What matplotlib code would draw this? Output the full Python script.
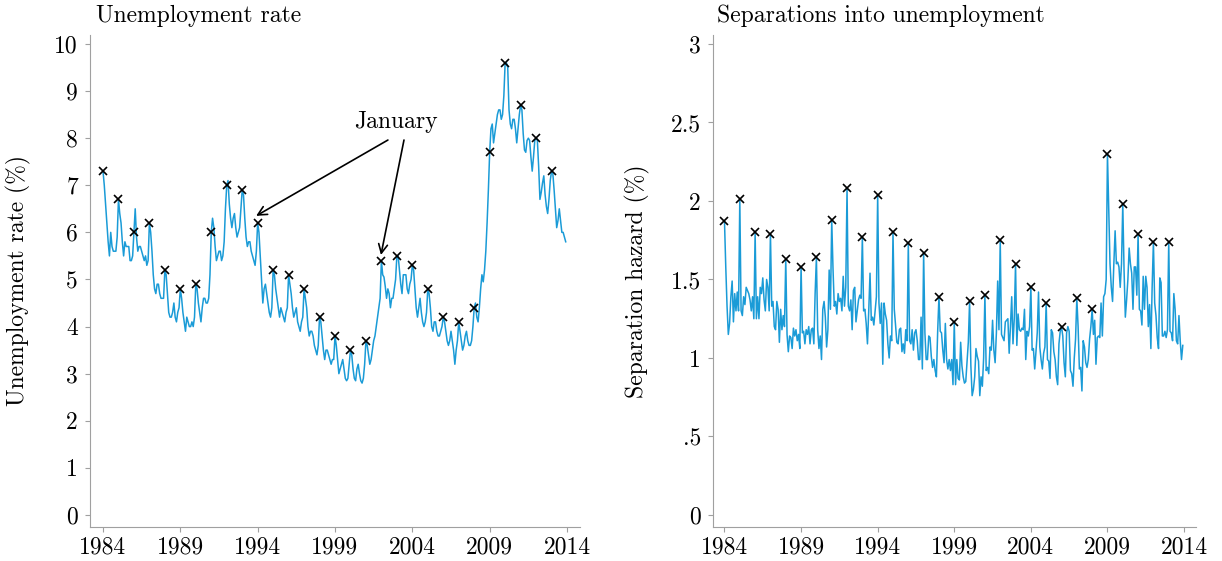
import numpy as np
import matplotlib
matplotlib.use("Agg")
import matplotlib.pyplot as plt

plt.rcParams["font.family"] = "serif"
plt.rcParams["font.serif"] = ["cmr10"]
plt.rcParams["axes.unicode_minus"] = False
plt.rcParams["axes.formatter.use_mathtext"] = True

# monthly series, Jan 1984 - Dec 2013 (one row per year)
unemp = [
    7.3, 7.0, 6.6, 6.2, 5.8, 5.5, 6.0, 5.7, 5.6, 5.6, 5.6, 5.9,
    6.7, 6.4, 6.2, 5.8, 5.5, 5.8, 5.7, 5.7, 5.7, 5.4, 5.4, 5.5,
    6.0, 6.5, 5.9, 5.6, 5.7, 5.7, 5.6, 5.5, 5.4, 5.5, 5.3, 5.4,
    6.2, 6.0, 5.6, 5.1, 4.8, 4.7, 4.9, 4.9, 4.7, 4.6, 4.6, 4.6,
    5.2, 5.1, 4.7, 4.3, 4.2, 4.2, 4.3, 4.5, 4.2, 4.1, 4.3, 4.4,
    4.8, 4.6, 4.3, 4.1, 3.9, 4.2, 4.1, 4.0, 4.0, 4.1, 4.0, 4.2,
    4.9, 4.8, 4.5, 4.3, 4.1, 4.4, 4.6, 4.6, 4.5, 4.5, 4.6, 5.1,
    6.0, 6.3, 6.1, 5.7, 5.4, 5.5, 5.6, 5.6, 5.4, 5.5, 5.8, 6.5,
    7.0, 7.1, 6.6, 6.3, 6.1, 6.3, 6.4, 6.1, 5.9, 6.0, 6.1, 6.5,
    6.9, 6.8, 6.3, 5.9, 5.7, 5.8, 5.8, 5.6, 5.5, 5.4, 5.3, 5.6,
    6.2, 6.0, 5.5, 5.0, 4.5, 4.8, 4.9, 4.7, 4.5, 4.3, 4.2, 4.4,
    5.2, 5.1, 4.8, 4.6, 4.4, 4.2, 4.4, 4.3, 4.2, 4.1, 4.3, 4.4,
    5.1, 4.9, 4.7, 4.4, 4.2, 4.3, 4.4, 4.1, 4.0, 3.9, 4.1, 4.2,
    4.8, 4.6, 4.4, 4.0, 3.8, 3.9, 3.9, 3.8, 3.6, 3.5, 3.4, 3.6,
    4.2, 4.1, 3.8, 3.5, 3.3, 3.5, 3.5, 3.4, 3.3, 3.2, 3.3, 3.3,
    3.8, 3.6, 3.3, 3.0, 3.1, 3.2, 3.3, 3.1, 2.9, 2.85, 2.9, 3.2,
    3.5, 3.4, 3.1, 2.9, 2.85, 3.1, 3.2, 3.0, 2.85, 2.8, 2.9, 3.2,
    3.7, 3.6, 3.4, 3.2, 3.3, 3.5, 3.7, 3.8, 4.0, 4.2, 4.4, 4.6,
    5.4, 5.1, 5.05, 4.85, 4.6, 4.8, 4.7, 4.4, 4.6, 4.6, 4.8, 5.0,
    5.5, 5.5, 5.2, 4.9, 4.7, 5.1, 5.1, 5.1, 4.8, 4.7, 4.9, 5.0,
    5.3, 5.2, 4.8, 4.4, 4.2, 4.4, 4.6, 4.3, 4.1, 4.0, 4.1, 4.3,
    4.8, 4.7, 4.4, 4.0, 3.9, 4.1, 4.1, 3.9, 3.8, 3.8, 3.9, 4.0,
    4.2, 4.1, 3.9, 3.7, 3.6, 3.7, 3.9, 3.7, 3.5, 3.2, 3.5, 3.7,
    4.1, 3.9, 3.7, 3.5, 3.6, 3.8, 3.9, 3.7, 3.6, 3.6, 3.7, 4.0,
    4.4, 4.5, 4.2, 4.1, 4.4, 4.8, 5.1, 4.95, 5.2, 5.6, 6.2, 6.9,
    7.7, 8.2, 8.3, 7.9, 8.1, 8.3, 8.5, 8.6, 8.6, 8.4, 8.5, 8.9,
    9.6, 9.6, 9.5, 8.6, 8.3, 8.2, 8.4, 8.4, 8.2, 7.9, 8.2, 8.5,
    8.7, 8.6, 8.1, 7.75, 7.7, 7.95, 8.0, 7.95, 7.6, 7.3, 7.6, 7.95,
    8.0, 7.95, 7.4, 6.7, 6.85, 7.05, 7.2, 6.8, 6.55, 6.4, 6.7, 7.1,
    7.3, 7.25, 6.9, 6.5, 6.1, 6.25, 6.5, 6.25, 6.0, 6.0, 5.9, 5.8,
]

sep = [
    1.87, 1.58, 1.33, 1.15, 1.22, 1.39, 1.49, 1.23, 1.41, 1.30, 1.42, 1.30,
    2.01, 1.30, 1.27, 1.39, 1.34, 1.45, 1.43, 1.41, 1.37, 1.30, 1.39, 1.25,
    1.80, 1.25, 1.39, 1.25, 1.45, 1.41, 1.51, 1.37, 1.30, 1.50, 1.45, 1.30,
    1.79, 1.33, 1.36, 1.20, 1.18, 1.36, 1.31, 1.10, 1.31, 1.18, 1.27, 1.20,
    1.63, 1.15, 1.04, 1.14, 1.13, 1.06, 1.19, 1.14, 1.18, 1.11, 1.15, 1.06,
    1.58, 1.16, 1.17, 1.09, 1.18, 1.15, 1.20, 1.09, 1.18, 1.19, 1.09, 1.41,
    1.64, 1.18, 1.06, 1.14, 0.99, 1.31, 1.36, 1.26, 1.07, 1.18, 1.56, 1.31,
    1.88, 1.57, 1.33, 1.36, 1.28, 1.41, 1.36, 1.38, 1.30, 1.52, 1.33, 1.45,
    2.08, 1.33, 1.30, 1.37, 1.18, 1.43, 1.45, 1.23, 1.30, 1.37, 1.40, 1.38,
    1.77, 1.30, 1.31, 1.22, 1.09, 1.30, 1.54, 1.24, 1.26, 1.21, 1.30, 1.39,
    2.04, 1.35, 1.22, 1.35, 0.96, 1.35, 1.28, 1.24, 1.09, 1.00, 1.14, 1.11,
    1.80, 1.31, 1.21, 1.10, 1.09, 1.18, 1.19, 1.04, 1.09, 1.03, 1.18, 1.11,
    1.73, 1.11, 1.09, 1.18, 1.05, 1.16, 1.18, 1.11, 0.99, 0.99, 1.26, 0.93,
    1.67, 1.16, 0.99, 0.99, 1.14, 1.13, 1.01, 0.94, 0.99, 0.92, 0.88, 1.17,
    1.39, 1.17, 1.16, 1.05, 0.97, 1.22, 0.99, 0.93, 0.99, 0.92, 0.99, 0.83,
    1.23, 0.83, 0.99, 0.87, 0.86, 1.10, 0.95, 0.88, 0.84, 0.85, 0.98, 1.10,
    1.36, 0.95, 0.76, 0.80, 0.88, 1.06, 1.01, 0.98, 0.76, 0.88, 0.82, 1.00,
    1.40, 0.92, 0.94, 0.90, 1.07, 1.05, 1.24, 1.05, 0.97, 1.16, 1.49, 1.18,
    1.75, 1.15, 1.13, 1.11, 1.23, 1.24, 1.25, 1.03, 1.20, 1.39, 1.09, 1.25,
    1.60, 1.08, 1.28, 1.18, 1.17, 1.19, 1.18, 1.31, 0.99, 1.17, 1.14, 1.20,
    1.45, 1.05, 1.06, 0.93, 1.04, 1.16, 1.42, 1.07, 0.99, 0.93, 1.03, 1.07,
    1.35, 0.99, 0.98, 0.87, 1.18, 1.16, 1.04, 0.99, 0.88, 0.83, 1.09, 1.17,
    1.20, 1.14, 0.97, 0.88, 1.16, 1.20, 1.17, 0.92, 0.90, 0.82, 1.00, 1.12,
    1.38, 1.20, 0.93, 0.94, 0.79, 1.11, 1.07, 0.97, 0.94, 0.99, 1.12, 1.20,
    1.31, 1.15, 1.24, 0.96, 1.13, 1.14, 1.13, 1.35, 1.14, 1.39, 1.41, 1.50,
    2.30, 1.95, 1.60, 1.45, 1.36, 1.60, 1.81, 1.60, 1.61, 1.58, 1.45, 1.60,
    1.98, 1.56, 1.26, 1.37, 1.50, 1.70, 1.60, 1.54, 1.31, 1.58, 1.58, 1.40,
    1.79, 1.31, 1.30, 1.21, 1.52, 1.31, 1.52, 1.45, 1.20, 1.34, 1.06, 1.45,
    1.74, 1.35, 1.27, 1.13, 1.06, 1.51, 1.48, 1.14, 1.14, 1.17, 1.13, 1.18,
    1.74, 1.17, 1.16, 1.11, 1.41, 1.31, 1.11, 1.09, 1.27, 1.11, 0.99, 1.08,
]

x_ticks = [1984, 1989, 1994, 1999, 2004, 2009, 2014]
u_ticks = list(range(0, 11))
s_ticks = [0, 0.5, 1, 1.5, 2, 2.5, 3]
s_labels = ["0", ".5", "1", "1.5", "2", "2.5", "3"]

fecha = 1984 + np.arange(len(unemp)) / 12
unemp = np.array(unemp)
sep = np.array(sep)

AZUL = "#1a9bd7"
GRIS = "#a0a0a0"
FS = 17

fig = plt.figure(figsize=(12.22, 5.61), dpi=100)
ax1 = fig.add_axes([90 / 1222, 34 / 561, 490 / 1222, 492 / 561])
ax2 = fig.add_axes([713 / 1222, 34 / 561, 483 / 1222, 492 / 561])


def estilo(ax):
    for lado in ("top", "right"):
        ax.spines[lado].set_visible(False)
    for lado in ("left", "bottom"):
        ax.spines[lado].set_color(GRIS)
        ax.spines[lado].set_linewidth(0.8)
    ax.tick_params(direction="out", length=3.6, width=0.8, color=GRIS,
                   labelsize=FS, labelcolor="black")
    ax.tick_params(axis="y", pad=5)
    ax.tick_params(axis="x", pad=3)
    ax.set_xticks(x_ticks)
    ax.set_xticklabels([str(t) for t in x_ticks])


# panel izquierdo: tasa de desempleo
ax1.plot(fecha, unemp, color=AZUL, lw=1.1)
ax1.plot(fecha[::12], unemp[::12], "x", color="black", ms=6, mew=1.2)
estilo(ax1)
ax1.set_xlim(1983.16, 2014.84)
ax1.set_ylim(-0.255, 10.19)
ax1.set_yticks(u_ticks)
ax1.set_yticklabels([str(t) for t in u_ticks])
ax1.set_ylabel("Unemployment rate (%)", fontsize=FS)
ax1.yaxis.set_label_coords(-0.12, 0.5)
ax1.text(0.012, 1.026, "Unemployment rate", transform=ax1.transAxes,
         fontsize=FS, ha="left", va="baseline")

# flechas hacia dos eneros
ax1.text(2002.94, 8.34, "January", fontsize=FS, ha="center", va="center")
flecha = dict(arrowstyle="->", color="black", lw=1.2, mutation_scale=16,
              shrinkA=0, shrinkB=0)
ax1.annotate("", xy=(1994 - 0.1, unemp[120] + 0.15), xytext=(2002.42, 7.96),
             arrowprops=flecha)
ax1.annotate("", xy=(2002 - 0.03, unemp[216] + 0.12), xytext=(2003.46, 7.96),
             arrowprops=flecha)

# panel derecho: separaciones
ax2.plot(fecha, sep, color=AZUL, lw=1.1)
ax2.plot(fecha[::12], sep[::12], "x", color="black", ms=6, mew=1.2)
estilo(ax2)
ax2.set_xlim(1983.25, 2014.78)
ax2.set_ylim(-0.0765, 3.057)
ax2.set_yticks(s_ticks)
ax2.set_yticklabels(s_labels)
ax2.set_ylabel("Separation hazard (%)", fontsize=FS)
ax2.yaxis.set_label_coords(-0.13, 0.5)
ax2.text(0.008, 1.026, "Separations into unemployment", transform=ax2.transAxes,
         fontsize=FS, ha="left", va="baseline")

fig.savefig("out.png", dpi=100)
